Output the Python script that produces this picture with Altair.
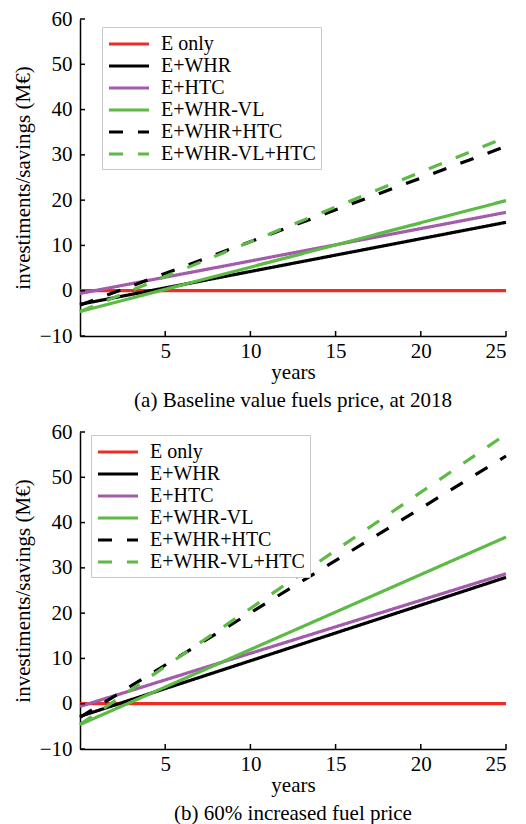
import altair as alt
import pandas as pd

# Scenario names, line colours and dash patterns
series = ["E only", "E+WHR", "E+HTC", "E+WHR-VL", "E+WHR+HTC", "E+WHR-VL+HTC"]
colors = ["#ee2b25", "#000000", "#a25cab", "#5cba45", "#000000", "#5cba45"]
dashes = [[1, 0], [1, 0], [1, 0], [1, 0], [14, 15], [14, 15]]

# Cumulative investments/savings (M€) at the first and last year
years = [0, 25]
baseline_start = [0.0, -3.0, -0.6, -4.6, -3.2, -4.6]
baseline_end = [0.0, 15.1, 17.3, 19.9, 31.9, 33.9]
increased_start = [0.0, -2.8, -0.6, -4.6, -3.0, -4.6]
increased_end = [0.0, 27.9, 28.7, 36.8, 54.7, 59.5]

x_ticks = [5, 10, 15, 20, 25]
y_ticks = [-10, 0, 10, 20, 30, 40, 50, 60]

FONT = "Liberation Serif"
W, H = 426, 317
# legend swatch: a 40px horizontal stroke starting at the entry's left edge
SWATCH = "M-1,0H3"


def long_table(start, end):
    rows = []
    for i, (name, a, b) in enumerate(zip(series, start, end)):
        rows.append({"series": name, "rank": i, "year": years[0], "value": a})
        rows.append({"series": name, "rank": i, "year": years[1], "value": b})
    return pd.DataFrame(rows)


def panel(start, end, caption, lx, ly):
    x_scale = alt.Scale(domain=[0, 25], nice=False, zero=False)
    y_scale = alt.Scale(domain=[-10, 60], nice=False, zero=False)
    legend = alt.Legend(
        title=None, orient="none", legendX=lx, legendY=ly,
        symbolType=SWATCH, symbolSize=400, symbolStrokeWidth=3.2,
        labelFont=FONT, labelFontSize=20, labelColor="#000",
        labelOffset=30, rowPadding=0, padding=5,
        strokeColor="#c8c8c8", fillColor="white",
    )
    lines = alt.Chart(long_table(start, end)).mark_line(strokeWidth=3.2, strokeCap="butt").encode(
        x=alt.X("year:Q", scale=x_scale, title="years",
                axis=alt.Axis(values=x_ticks, labelPadding=4, titlePadding=0)),
        y=alt.Y("value:Q", scale=y_scale, title="investiments/savings (M€)",
                axis=alt.Axis(values=y_ticks, labelPadding=8, titlePadding=6)),
        color=alt.Color("series:N", scale=alt.Scale(domain=series, range=colors),
                        sort=series, legend=legend),
        strokeDash=alt.StrokeDash("series:N", scale=alt.Scale(domain=series, range=dashes),
                                  sort=series, legend=None),
        detail="rank:O",
    )
    # inward tick marks on both axes
    yt = alt.Chart(pd.DataFrame({"t": y_ticks})).mark_rule(color="#000", strokeWidth=1.5).encode(
        y=alt.Y("t:Q", scale=y_scale), x=alt.value(0), x2=alt.value(5))
    xt = alt.Chart(pd.DataFrame({"t": x_ticks})).mark_rule(color="#000", strokeWidth=1.5).encode(
        x=alt.X("t:Q", scale=x_scale), y=alt.value(H), y2=alt.value(H - 5))
    return alt.layer(lines, yt, xt).properties(
        width=W, height=H,
        title=alt.TitleParams(caption, orient="bottom", frame="group", anchor="middle",
                              font=FONT, fontSize=21, fontWeight="normal", color="#000",
                              offset=8),
    )


top = panel(baseline_start, baseline_end, "(a) Baseline value fuels price, at 2018", 22, 8)
bottom = panel(increased_start, increased_end, "(b) 60% increased fuel price", 11, 3)

chart = alt.vconcat(top, bottom, spacing=10).resolve_scale(
    color="independent", strokeDash="independent"
).resolve_legend(
    color="independent", strokeDash="independent"
).properties(
    padding={"left": 12, "top": 8, "right": 5, "bottom": 2}
).configure(font=FONT).configure_view(stroke=None).configure_axis(
    tickSize=0, domainColor="#000", domainWidth=1.5, grid=False,
    labelFont=FONT, labelFontSize=21, labelColor="#000",
    titleFont=FONT, titleFontSize=21, titleFontWeight="normal", titleColor="#000",
).configure_title(font=FONT)

chart.save("out.html", embed_options={"renderer": "svg", "actions": False})
